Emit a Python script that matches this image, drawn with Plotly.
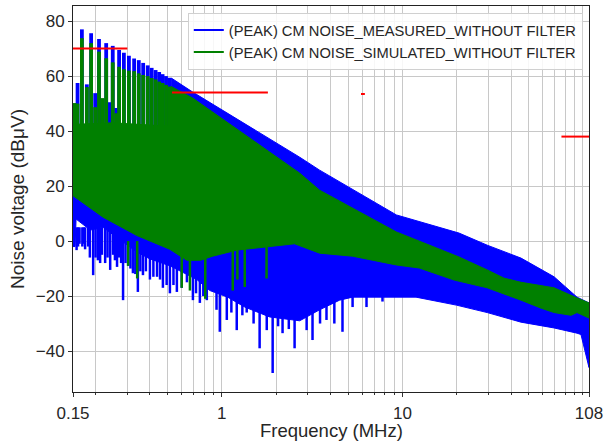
import math
import plotly.graph_objects as go

# ---------------- data ----------------
# Frequencies in MHz, levels in dBuV

# Measured (blue) band: upper edge and lower baseline
meas_top_f = [0.150, 0.52, 0.525, 0.69, 2.70, 3.48, 9.27, 20.6, 29.5, 45.4, 69.2, 92.7, 108]
meas_top_v = [42.0, 42.0, 59.3, 54.2, 30.5, 25.8, 9.5, 2.9, -1.5, -6.2, -13.0, -20.4, -22.5]
meas_low_f = [0.150, 0.154, 0.156, 0.164, 0.187, 0.220, 0.273, 0.339, 0.400, 0.516, 0.728,
              0.859, 1.079, 1.34, 1.84, 2.70, 3.48, 4.49, 5.30, 8.16, 11.9, 19.9, 29.5,
              45.4, 69.2, 92.7, 97.5, 108]
meas_low_v = [-2.0, -2.0, 8.0, 7.0, 4.0, 5.0, 0.5, -4.0, -6.5, -9.0, -14.0,
              -18.0, -20.4, -24.0, -27.6, -29.0, -25.0, -21.5, -20.4, -20.4, -20.4, -23.3, -26.0,
              -29.5, -31.6, -33.5, -34.0, -46.0]

# Simulated (green) band: upper edge and lower baseline
sim_top_f = [0.150, 0.156, 0.157, 0.25, 0.45, 0.52, 0.525, 0.69, 2.70, 3.48, 9.27, 20.6,
             29.5, 36.6, 45.4, 69.2, 92.7, 108]
sim_top_v = [50.0, 50.0, 42.5, 43.0, 42.0, 42.0, 56.2, 52.0, 24.7, 18.5, 3.3, -5.8,
             -10.5, -13.5, -15.0, -17.0, -20.7, -22.5]
sim_low_f = [0.150, 0.220, 0.339, 0.516, 0.64, 0.76, 0.89, 1.21, 1.77, 2.53, 3.48, 5.30,
             9.27, 12.4, 19.4, 29.5, 45.4, 58.6, 69.2, 85.9, 92.7, 108]
sim_low_v = [16.5, 8.7, 2.0, -3.0, -7.0, -7.0, -5.5, -3.3, -2.0, -1.0, -4.4, -5.5,
             -8.7, -9.8, -14.2, -17.0, -21.5, -24.4, -26.0, -27.0, -26.0, -28.0]

# Harmonic peaks at low frequency
peak_f = [0.159, 0.168, 0.179, 0.189, 0.199, 0.209, 0.219, 0.229, 0.238, 0.249, 0.260,
          0.270, 0.287, 0.306, 0.327, 0.347, 0.367, 0.389, 0.409, 0.430, 0.450, 0.470,
          0.491, 0.511]
peak_meas = [57.5, 77.0, 57.0, 75.6, 53.8, 73.5, 51.6, 72.0, 50.5, 71.0, 48.4,
             69.5, 68.5, 67.4, 66.4, 65.8, 64.8, 63.9, 63.0, 62.2, 61.5, 60.7,
             60.0, 59.4]
peak_sim = [50.0, 73.8, 56.0, 72.0, 48.7, 68.9, 52.0, 66.5, 42.0, 65.0, 46.5,
            63.4, 62.5, 62.0, 61.8, 61.0, 60.4, 60.0, 59.3, 58.8, 58.0, 57.5,
            56.8, 56.2]

# Downward dips
dip_meas_f = [0.157, 0.160, 0.163, 0.169, 0.172, 0.175, 0.182, 0.186, 0.194, 0.200, 0.206,
              0.212, 0.217, 0.226, 0.233, 0.241, 0.250, 0.256, 0.263, 0.270, 0.277, 0.284,
              0.293, 0.303, 0.312, 0.322, 0.332, 0.343, 0.354, 0.366, 0.380, 0.400, 0.418,
              0.438, 0.455, 0.472, 0.495, 0.516, 0.540, 0.564, 0.600, 0.641, 0.692, 0.720,
              0.756, 0.790, 0.826, 0.892, 0.935, 0.975, 1.066, 1.13, 1.21, 1.30, 1.374,
              1.50, 1.62, 1.774, 1.913, 2.05, 2.17, 2.35, 2.53, 2.95, 3.18, 3.50, 3.80,
              4.20, 4.66, 5.30, 6.33, 7.76]
dip_meas_v = [-3.3, -2.0, -1.0, -2.0, -1.0, -3.0, -2.0, -6.0, -12.4, -6.0, -7.0,
              -8.0, -5.0, -8.0, -6.0, -10.5, -5.0, -7.0, -9.4, -6.0, -8.0, -21.5,
              -8.0, -9.0, -10.0, -11.7, -12.0, -18.5, -11.0, -12.4, -11.0, -14.0, -13.0,
              -13.0, -14.0, -17.0, -16.0, -19.0, -16.0, -18.5, -17.0, -15.0, -21.5, -19.0,
              -22.5, -20.0, -21.5, -18.0, -25.0, -33.0, -28.7, -26.0, -32.4, -27.0, -26.0,
              -30.0, -39.0, -32.4, -48.0, -31.0, -33.5, -32.0, -39.0, -32.4, -36.0, -30.0, -28.7,
              -30.0, -33.0, -24.0, -24.0, -22.0]
dip_sim_f = [0.303, 0.340, 0.600, 0.666, 0.810, 1.15, 1.22, 1.34, 1.77]
dip_sim_v = [-9.0, -13.6, -17.0, -18.0, -21.0, -18.0, -14.0, -16.7, -13.6]

# Limit lines
limit_f0 = [0.15, 0.53, 5.9, 76.0]
limit_f1 = [0.30, 1.80, 6.2, 108.0]
limit_v = [70.0, 54.0, 53.5, 38.0]

x_ticks = [0.15, 1, 10, 108]
x_tick_text = ["0.15", "1", "10", "108"]
x_minor = [0.2, 0.3, 0.4, 0.5, 0.6, 0.7, 0.8, 0.9, 2, 3, 4, 5, 6, 7, 8, 9,
           20, 30, 40, 50, 60, 70, 80, 90, 100]
y_ticks = [-40, -20, 0, 20, 40, 60, 80]

BLUE = "#0000ff"
GREEN = "#008000"
RED = "#ff0000"
FONT = "Liberation Sans, Arial, sans-serif"
TXT = "#262626"


def band(top_f, top_v, low_f, low_v):
    xs = list(top_f) + list(reversed(low_f))
    ys = list(top_v) + list(reversed(low_v))
    return xs, ys


def segments(fs, y0s, y1s):
    xs, ys = [], []
    for f, a, b in zip(fs, y0s, y1s):
        xs += [f, f, None]
        ys += [a, b, None]
    return xs, ys


fig = go.Figure()

# measured band
bx, by = band(meas_top_f, meas_top_v, meas_low_f, meas_low_v)
fig.add_trace(go.Scatter(x=bx, y=by, fill="toself", fillcolor=BLUE, mode="lines",
                         line=dict(color=BLUE, width=1), showlegend=False, hoverinfo="skip"))
sx, sy = segments(peak_f, [40.0] * len(peak_f), peak_meas)
fig.add_trace(go.Scatter(x=sx, y=sy, mode="lines", line=dict(color=BLUE, width=3.8),
                         showlegend=False, hoverinfo="skip"))
dx, dy = segments(dip_meas_f, dip_meas_v, [5.0] * len(dip_meas_f))
fig.add_trace(go.Scatter(x=dx, y=dy, mode="lines", line=dict(color=BLUE, width=2.5),
                         showlegend=False, hoverinfo="skip"))

# simulated band
gx, gy = band(sim_top_f, sim_top_v, sim_low_f, sim_low_v)
fig.add_trace(go.Scatter(x=gx, y=gy, fill="toself", fillcolor=GREEN, mode="lines",
                         line=dict(color=GREEN, width=1), showlegend=False, hoverinfo="skip"))
sx, sy = segments(peak_f, [40.0] * len(peak_f), peak_sim)
fig.add_trace(go.Scatter(x=sx, y=sy, mode="lines", line=dict(color=GREEN, width=3.8),
                         showlegend=False, hoverinfo="skip"))
dx, dy = segments(dip_sim_f, dip_sim_v, [0.0] * len(dip_sim_f))
fig.add_trace(go.Scatter(x=dx, y=dy, mode="lines", line=dict(color=GREEN, width=2.5),
                         showlegend=False, hoverinfo="skip"))

# limit lines
lx, ly = [], []
for a, b, v in zip(limit_f0, limit_f1, limit_v):
    lx += [a, b, None]
    ly += [v, v, None]
fig.add_trace(go.Scatter(x=lx, y=ly, mode="lines", line=dict(color=RED, width=2),
                         showlegend=False, hoverinfo="skip"))

# legend entries
fig.add_trace(go.Scatter(x=[None], y=[None], mode="lines", line=dict(color=BLUE, width=2),
                         name="(PEAK) CM NOISE_MEASURED_WITHOUT FILTER"))
fig.add_trace(go.Scatter(x=[None], y=[None], mode="lines", line=dict(color=GREEN, width=2),
                         name="(PEAK) CM NOISE_SIMULATED_WITHOUT FILTER"))

GRID = "#c8c8c8"
fig.update_xaxes(type="log", range=[math.log10(0.15), math.log10(108)],
                 tickvals=x_ticks, ticktext=x_tick_text,
                 showgrid=True, gridcolor=GRID, gridwidth=1,
                 minor=dict(tickvals=x_minor, showgrid=True, gridcolor=GRID, gridwidth=1,
                            ticks="outside", ticklen=2, tickcolor="#333"),
                 ticks="outside", ticklen=4, tickcolor="#333", automargin=False,
                 ticklabelstandoff=2, ticklabeloverflow="allow",
                 showline=True, linecolor="#222", linewidth=1, mirror=True, zeroline=False,
                 tickfont=dict(family=FONT, size=17, color=TXT))
fig.update_yaxes(range=[-54.9, 85.5], tickvals=y_ticks,
                 showgrid=True, gridcolor=GRID, gridwidth=1,
                 ticks="outside", ticklen=4, tickcolor="#333", automargin=False,
                 showline=True, linecolor="#222", linewidth=1, mirror=True, zeroline=False,
                 tickfont=dict(family=FONT, size=17, color=TXT),
                 title=dict(text="Noise voltage (dBμV)", font=dict(family=FONT, size=19, color=TXT),
                            standoff=6))

# x-axis title placed under the tick labels
fig.add_annotation(text="Frequency (MHz)", xref="paper", yref="paper", x=0.5, y=-0.1,
                   xanchor="center", yanchor="middle", showarrow=False,
                   font=dict(family=FONT, size=18.5, color=TXT))

fig.update_layout(
    width=605, height=446,
    margin=dict(l=73, r=16, t=6, b=54),
    paper_bgcolor="white", plot_bgcolor="white",
    showlegend=True,
    legend=dict(x=0.988, y=0.982, xanchor="right", yanchor="top",
                bgcolor="rgba(255,255,255,0.85)", bordercolor="#d0d0d0", borderwidth=1,
                font=dict(family=FONT, size=14.7, color=TXT),
                itemwidth=30, tracegroupgap=0),
)

# remove the default page margin so the figure fills the window exactly
fig.write_html("out.html", config={"displayModeBar": False},
               post_script="document.body.style.margin='0px';")
